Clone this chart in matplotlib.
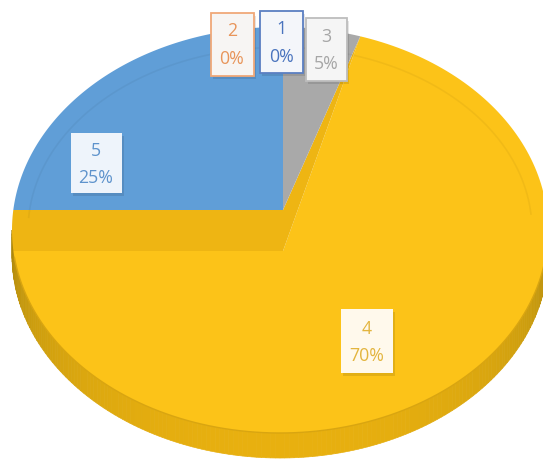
import numpy as np
import matplotlib
matplotlib.use("Agg")
import matplotlib.pyplot as plt
from matplotlib.patches import Polygon, Rectangle

# ---------------- data ----------------
categories = ["1", "2", "3", "4", "5"]
values = [0, 0, 5, 70, 25]
top_colors = ["#4472C4", "#ED7D31", "#A9A9A9", "#FCC318", "#609ED7"]
text_colors = ["#4A74BE", "#E8955A", "#A6A6A6", "#E3B53E", "#5E93CC"]
edge_colors = ["#5B7FC2", "#F0A878", "#BDBDBD", "none", "none"]

# ---------------- layout (pixels) ----------------
W, H = 543, 472
CX, CY, RX, RY = 280.0, 230.0, 268.0, 203.0   # outline ellipse of the top face
V0 = np.array([283.0, 210.0])                 # apex of the back slices
V1 = np.array([283.0, 251.0])                 # apex of the big (front) slice
K = 0.73                                      # vertical foreshortening of directions
DEPTH = 25.0                                  # side wall thickness
label_pos = {"1": (281, 42), "2": (232, 44), "3": (326, 49), "4": (367, 341), "5": (96, 163)}
label_w = {"1": 43, "2": 43, "3": 41, "4": 52, "5": 51}
label_h = {"1": 62, "2": 63, "3": 63, "4": 64, "5": 60}
box_fc = {"1": "#F4F6FA", "2": "#F7F5F3", "3": "#F5F5F5", "4": "#FFF9EC", "5": "#EEF4FB"}

fig = plt.figure(figsize=(W / 100, H / 100), dpi=100)
ax = fig.add_axes([0, 0, 1, 1])
ax.set_xlim(0, W)
ax.set_ylim(H, 0)
ax.axis("off")


def ray_hit(v, theta_deg):
    """Intersect ray from v (pie angle theta, clockwise from 12 o'clock) with outline."""
    t = np.radians(theta_deg)
    d = np.array([np.sin(t), -K * np.cos(t)])
    px, py = (v[0] - CX) / RX, (v[1] - CY) / RY
    dx, dy = d[0] / RX, d[1] / RY
    a = dx * dx + dy * dy
    b = 2 * (px * dx + py * dy)
    c = px * px + py * py - 1
    s = (-b + np.sqrt(b * b - 4 * a * c)) / (2 * a)
    return v + s * d


def phi_of(p):
    return np.degrees(np.arctan2((p[1] - CY) / RY, (p[0] - CX) / RX))


def arc(phi_a, phi_b, n=200):
    ph = np.radians(np.linspace(phi_a, phi_b, n))
    return np.column_stack([CX + RX * np.cos(ph), CY + RY * np.sin(ph)])


total = float(sum(values))
starts = np.concatenate([[0], np.cumsum(values)[:-1]]) / total * 360
ends = np.cumsum(values) / total * 360
i_big = int(np.argmax(values))

# --- side wall (front rim), shaded ---
light = np.array([0.91, 0.69, 0.06])
dark = np.array([0.66, 0.52, 0.05])
phis = np.linspace(0, 180, 181)
for a0, a1 in zip(phis[:-1], phis[1:]):
    top = arc(a0, a1, 4)
    bot = top[::-1] + [0, DEPTH]
    f = max(np.sin(np.radians((a0 + a1) / 2)), 0) ** 0.6
    col = dark + (light - dark) * f
    ax.add_patch(Polygon(np.vstack([top, bot]), closed=True, fc=col, ec=col, lw=0.5, zorder=1))

# --- big slice top face ---
pa = ray_hit(V0, starts[i_big])
pb = ray_hit(V1, ends[i_big])
phi_a, phi_b = phi_of(pa), phi_of(pb)
if phi_b < phi_a:
    phi_b += 360
ax.add_patch(Polygon(np.vstack([V1, arc(phi_a, phi_b)]), closed=True,
                     fc=top_colors[i_big], ec="none", zorder=2))
# rim line
ax.plot(*arc(8, 172).T, color="#D9A510", lw=1.0, zorder=3)

# --- wall band between back slices and the big slice ---
p_end0 = ray_hit(V0, ends[i_big])
phe = phi_of(p_end0) % 360
phb = phi_of(pb) % 360
band = np.vstack([V0, arc(phe, phb, 40), V1, pa])
ax.add_patch(Polygon(band, closed=True, fc="#EEB513", ec="none", zorder=3))

# --- back slices ---
for i, (s, e) in enumerate(zip(starts, ends)):
    if i == i_big or e - s <= 0:
        continue
    p0 = ray_hit(V0, s)
    p1 = ray_hit(V0, e)
    f0, f1 = phi_of(p0), phi_of(p1)
    if f1 < f0:
        f1 += 360
    ax.add_patch(Polygon(np.vstack([V0, arc(f0, f1)]), closed=True,
                         fc=top_colors[i], ec="none", zorder=4))

# subtle bevel line on the top face
inner = arc(-176, -5)
inner[:, 0] = CX + (inner[:, 0] - CX) * 0.94
inner[:, 1] = CY + (inner[:, 1] - CY) * 0.90
ax.plot(inner[:, 0], inner[:, 1], color="k", alpha=0.045, lw=1.2, zorder=5)

# --- labels ---
for i, cat in enumerate(categories):
    x, y = label_pos[cat]
    w, h = label_w[cat], label_h[cat]
    pct = int(round(values[i] / total * 100))
    ax.add_patch(Rectangle((x - w / 2 + 2, y - h / 2 + 3), w, h, fc="k", alpha=0.10,
                           ec="none", zorder=6))
    ax.add_patch(Rectangle((x - w / 2, y - h / 2), w, h, fc=box_fc[cat],
                           ec=edge_colors[i], lw=1.3, zorder=7))
    ax.text(x, y - 12.5, cat, ha="center", va="center", fontsize=12.8,
            family="Open Sans", color=text_colors[i], zorder=8)
    ax.text(x, y + 15, f"{pct}%", ha="center", va="center", fontsize=12.8,
            family="Open Sans", color=text_colors[i], zorder=8)

fig.savefig("out.png", dpi=100, facecolor="white")
